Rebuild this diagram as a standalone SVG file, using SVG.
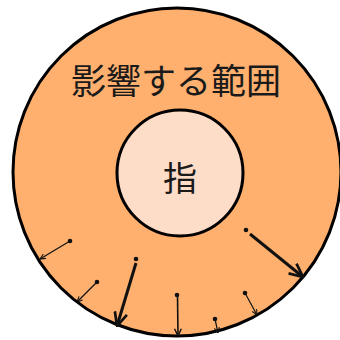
<svg xmlns="http://www.w3.org/2000/svg" width="340" height="340" viewBox="0 0 340 340">
<style>
.lbl{font-family:"Noto Sans CJK JP","Noto Sans CJK SC",sans-serif;fill:#1a1a1a;text-anchor:middle;dominant-baseline:central}
.arr{stroke:#111;fill:none;marker-end:url(#head)}
.thin{stroke-width:1.2}
.mid{stroke-width:1.6}
.thick{stroke-width:3}
.dot{fill:#111}
</style>
<defs>
<marker id="head" viewBox="0 0 10 10" refX="9.5" refY="5" markerWidth="5" markerHeight="5" orient="auto" markerUnits="strokeWidth">
<path d="M0.5,0.8 L9.5,5 L0.5,9.2" fill="none" stroke="#111" stroke-width="1.8"/>
</marker>
</defs>
<rect width="340" height="340" fill="#fff"/>
<g id="outer">
<circle cx="177" cy="172" r="164" fill="#FFB06E" stroke="#000" stroke-width="3"/>
<text class="lbl" x="176" y="78" font-size="35">影響する範囲</text>
</g>
<g id="finger">
<circle cx="180" cy="173" r="63" fill="#FDDCC8" stroke="#000" stroke-width="3"/>
<text class="lbl" x="180" y="176" font-size="34">指</text>
</g>
<g id="connectors">
<circle class="dot" cx="70" cy="241" r="2.3"/>
<line class="arr thin" x1="70" y1="241" x2="40" y2="259"/>
<circle class="dot" cx="97" cy="282" r="2.3"/>
<line class="arr thin" x1="97" y1="282" x2="77" y2="302"/>
<circle class="dot" cx="136" cy="259" r="2.3"/>
<line class="arr thick" x1="136" y1="263" x2="117" y2="326"/>
<circle class="dot" cx="177" cy="295" r="2.3"/>
<line class="arr mid" x1="177.5" y1="295" x2="178" y2="336"/>
<circle class="dot" cx="215" cy="319" r="2.3"/>
<line class="arr thin" x1="215" y1="319" x2="218" y2="333"/>
<circle class="dot" cx="245" cy="293" r="2.3"/>
<line class="arr thin" x1="245" y1="293" x2="257" y2="315"/>
<circle class="dot" cx="246" cy="230" r="2.3"/>
<line class="arr thick" x1="250" y1="234" x2="303" y2="277"/>
</g>
</svg>
